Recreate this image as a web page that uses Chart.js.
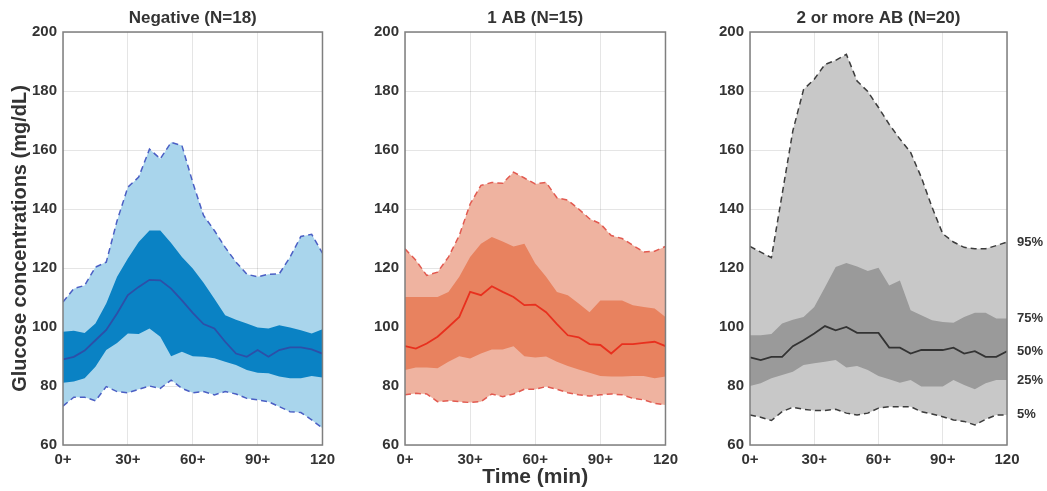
<!DOCTYPE html>
<html>
<head>
<meta charset="utf-8">
<script src="https://cdn.jsdelivr.net/npm/chart.js@4.4.1/dist/chart.umd.min.js"></script>
<style>
  html, body { margin: 0; padding: 0; background: #fff; }
  #wrap { position: relative; width: 1047px; height: 491px; overflow: hidden; }
  .panel { position: absolute; top: 0; height: 491px; }
</style>
</head>
<body>
<div id="wrap">
  <div class="panel" style="left:0;width:341px"><canvas id="c1"></canvas></div>
  <div class="panel" style="left:345px;width:339px"><canvas id="c2"></canvas></div>
  <div class="panel" style="left:690px;width:357px"><canvas id="c3"></canvas></div>
</div>
<script>
// time points (min), every 5 min
const times = [0, 5, 10, 15, 20, 25, 30, 35, 40, 45, 50, 55, 60, 65, 70, 75, 80, 85, 90, 95, 100, 105, 110, 115, 120];
const xTicks = [0, 30, 60, 90, 120];
const xTickLabels = ['0+', '30+', '60+', '90+', '120'];
const percentLabels = ['95%', '75%', '50%', '25%', '5%'];

// Negative (N=18)
const neg95 = [108.5, 113, 114.1, 120.3, 122, 136, 147.4, 150.8, 160.3, 157, 162.6, 161.5, 149, 137.8, 132.7, 127, 122, 117.9, 117, 117.9, 118, 123.7, 130.7, 131.4, 125];
const neg75 = [98.4, 98.7, 98, 101.2, 108, 117, 123.2, 128.8, 132.7, 132.7, 128.5, 123.7, 119.8, 115, 109.6, 104, 102.5, 101.2, 99.8, 99.5, 100.6, 99.8, 98.9, 97.8, 99.2];
const neg50 = [89, 89.9, 92, 95.5, 99, 104.6, 110.8, 113.6, 116, 115.8, 113, 109, 104.8, 101, 99.5, 95, 91, 89.9, 92.2, 89.9, 92.2, 93.1, 93.1, 92.4, 91];
const neg25 = [81.1, 81.5, 82.6, 86.5, 92.2, 94.6, 97.8, 97.6, 99.5, 96.7, 90.1, 91.6, 90.1, 89.9, 89.4, 88.2, 87.1, 85.4, 84.5, 84.3, 83.2, 82.6, 82.6, 83.4, 82.9];
const neg5 = [73.2, 76.2, 76.2, 75, 79.8, 78.1, 77.7, 78.9, 80, 79.2, 82, 79.2, 77.7, 78.1, 77, 78.1, 77.3, 75.8, 75.3, 74.7, 73, 71.3, 71, 68.5, 65.7];

// 1 AB (N=15)
const ab1_95 = [126.5, 122.6, 117.5, 118.6, 123.7, 131, 141.7, 148, 149, 148.7, 152.5, 150.5, 148.5, 149, 143.8, 143, 140, 136.7, 135, 131, 130, 127.7, 125.4, 125.7, 127.3];
const ab1_75 = [110.2, 110.2, 110.2, 110.2, 111.9, 117, 123.7, 128.2, 130.5, 129, 127.3, 128.2, 121.5, 117, 111.9, 110.8, 108, 105, 109, 109, 109, 107.4, 106.8, 106.3, 103.4];
const ab1_50 = [93.5, 92.7, 94.4, 96.7, 100, 103.4, 111.9, 110.8, 113.8, 111.9, 110.2, 107.4, 107.6, 105, 101, 97.2, 96.5, 94.2, 93.9, 91, 94.2, 94.2, 94.6, 95, 93.5];
const ab1_25 = [85.4, 86.3, 86.3, 86, 88.2, 90.1, 89.3, 91, 92.4, 92.4, 93.5, 90.1, 89.7, 90, 88.2, 86.8, 85.6, 84.5, 83.4, 83.2, 83.2, 83.4, 83.4, 82.6, 83.2];
const ab1_5 = [77, 77.5, 77.3, 74.7, 75, 74.7, 74.4, 74.7, 77.3, 76.4, 77.3, 78.9, 78.9, 79.8, 78.9, 77.7, 77, 76.6, 77, 77.3, 77, 75.8, 75.3, 74.1, 73.6];

// 2 or more AB (N=20)
const ab2_95 = [127.3, 125.4, 123.5, 145, 166.5, 180.5, 184, 189, 190.4, 192.4, 183.4, 179.8, 174.4, 168.7, 163.7, 159.2, 150.7, 140.6, 131.6, 128.8, 127, 126.5, 126.5, 127.6, 128.8];
const ab2_75 = [97.2, 97.2, 97.6, 101.2, 102.5, 103.4, 106.8, 113.5, 120.3, 121.7, 120.5, 119, 120.1, 114.1, 115.8, 105.7, 104, 102.3, 101.7, 101.4, 103.4, 104.8, 104.8, 102.9, 102.9];
const ab2_50 = [89.7, 88.8, 89.9, 89.9, 93.5, 95.5, 97.8, 100.3, 98.9, 100, 98, 98, 98, 93, 93, 91, 92.2, 92.2, 92.2, 93, 91, 91.8, 89.9, 89.9, 91.8];
const ab2_25 = [80, 80.9, 82.6, 83.7, 84.8, 87.1, 87.7, 88.2, 88.8, 86.3, 86.8, 85.4, 83.4, 82.3, 81.1, 82, 79.8, 79.8, 79.8, 82, 80.3, 78.9, 80.9, 82, 82];
const ab2_5 = [70.2, 69.4, 68.3, 71.3, 72.8, 72.1, 71.7, 71.7, 72.1, 70.8, 70.2, 70.8, 72.5, 73, 73, 73, 71.3, 70.5, 69.6, 68.5, 68, 66.8, 68.7, 70.2, 70.2];

const FONT = "'Liberation Sans', Arial, Helvetica, sans-serif";
const TEXT = '#333333';

function pts(arr) {
  return times.map((t, i) => ({ x: t, y: arr[i] }));
}

// panel title + frame + optional percentile labels
const panelDecor = {
  id: 'panelDecor',
  afterDraw(chart, args, opts) {
    const { ctx, chartArea: a } = chart;
    ctx.save();
    ctx.strokeStyle = '#7f7f7f';
    ctx.lineWidth = 1.5;
    ctx.strokeRect(a.left, a.top, a.right - a.left, a.bottom - a.top);

    ctx.fillStyle = TEXT;
    ctx.font = 'bold 17px ' + FONT;
    ctx.textAlign = 'center';
    ctx.textBaseline = 'middle';
    ctx.fillText(opts.title, (a.left + a.right) / 2, 18);

    if (opts.showPercent) {
      const y = chart.scales.y;
      const last = [ab2_95, ab2_75, ab2_50, ab2_25, ab2_5].map(s => s[s.length - 1]);
      ctx.font = 'bold 13px ' + FONT;
      ctx.textAlign = 'left';
      percentLabels.forEach((lab, i) => {
        ctx.fillText(lab, a.right + 10, y.getPixelForValue(last[i]));
      });
    }
    ctx.restore();
  }
};

function makePanel(id, cfg) {
  const el = document.getElementById(id);
  el.width = cfg.width;
  el.height = 491;
  return new Chart(el, {
    type: 'line',
    data: {
      datasets: [
        { data: pts(cfg.p50), borderColor: cfg.median, borderWidth: 1.8, fill: false },
        { data: pts(cfg.p75), borderWidth: 0, borderColor: 'transparent', backgroundColor: cfg.inner, fill: '+1' },
        { data: pts(cfg.p25), borderWidth: 0, borderColor: 'transparent', fill: false },
        { data: pts(cfg.p95), borderColor: cfg.dash, borderWidth: 1.5, borderDash: [6, 4], backgroundColor: cfg.outer, fill: '+1' },
        { data: pts(cfg.p5), borderColor: cfg.dash, borderWidth: 1.5, borderDash: [6, 4], fill: false }
      ]
    },
    options: {
      responsive: false,
      animation: false,
      layout: { padding: { top: 32, right: cfg.padRight, left: 0, bottom: 0 } },
      elements: { point: { radius: 0 }, line: { tension: 0 } },
      plugins: {
        legend: { display: false },
        tooltip: { enabled: false },
        filler: { drawTime: 'beforeDatasetsDraw' },
        panelDecor: { title: cfg.title, showPercent: cfg.showPercent }
      },
      scales: {
        x: {
          type: 'linear',
          min: 0,
          max: 120,
          z: 1,
          afterFit(scale) { scale.height = 46; },
          afterBuildTicks(scale) { scale.ticks = xTicks.map(v => ({ value: v })); },
          grid: { color: 'rgba(0,0,0,0.1)', drawTicks: false },
          border: { display: false },
          ticks: {
            padding: 6,
            color: TEXT,
            font: { family: FONT, size: 15, weight: 'bold' },
            maxRotation: 0,
            callback: v => xTickLabels[xTicks.indexOf(v)]
          },
          title: {
            display: cfg.xTitle,
            text: 'Time (min)',
            color: TEXT,
            font: { family: FONT, size: 21, weight: 'bold' },
            padding: { top: 0, bottom: 1 }
          }
        },
        y: {
          min: 60,
          max: 200,
          z: 1,
          afterFit(scale) { scale.width = 60 + (cfg.yTitle ? 3 : 0); },
          grid: { color: 'rgba(0,0,0,0.1)', drawTicks: false },
          border: { display: false },
          ticks: {
            stepSize: 20,
            padding: 6,
            color: TEXT,
            font: { family: FONT, size: 15, weight: 'bold' }
          },
          title: {
            display: cfg.yTitle,
            text: 'Glucose concentrations (mg/dL)',
            color: TEXT,
            font: { family: FONT, size: 20, weight: 'bold' },
            padding: { top: 8, bottom: 0 }
          }
        }
      }
    },
    plugins: [panelDecor]
  });
}

makePanel('c1', {
  width: 341, padRight: 13, title: 'Negative (N=18)', yTitle: true, xTitle: false,
  p95: neg95, p75: neg75, p50: neg50, p25: neg25, p5: neg5,
  outer: '#a9d5ec', inner: '#0a82c4', median: '#2d4fa8', dash: '#4b5fc4'
});
makePanel('c2', {
  width: 339, padRight: 15, title: '1 AB (N=15)', yTitle: false, xTitle: true,
  p95: ab1_95, p75: ab1_75, p50: ab1_50, p25: ab1_25, p5: ab1_5,
  outer: '#efb3a0', inner: '#e8825f', median: '#e8301e', dash: '#e25a50'
});
makePanel('c3', {
  width: 357, padRight: 40, title: '2 or more AB (N=20)', yTitle: false, xTitle: false, showPercent: true,
  p95: ab2_95, p75: ab2_75, p50: ab2_50, p25: ab2_25, p5: ab2_5,
  outer: '#c8c8c8', inner: '#9a9a9a', median: '#333333', dash: '#3c3c3c'
});
</script>
</body>
</html>
